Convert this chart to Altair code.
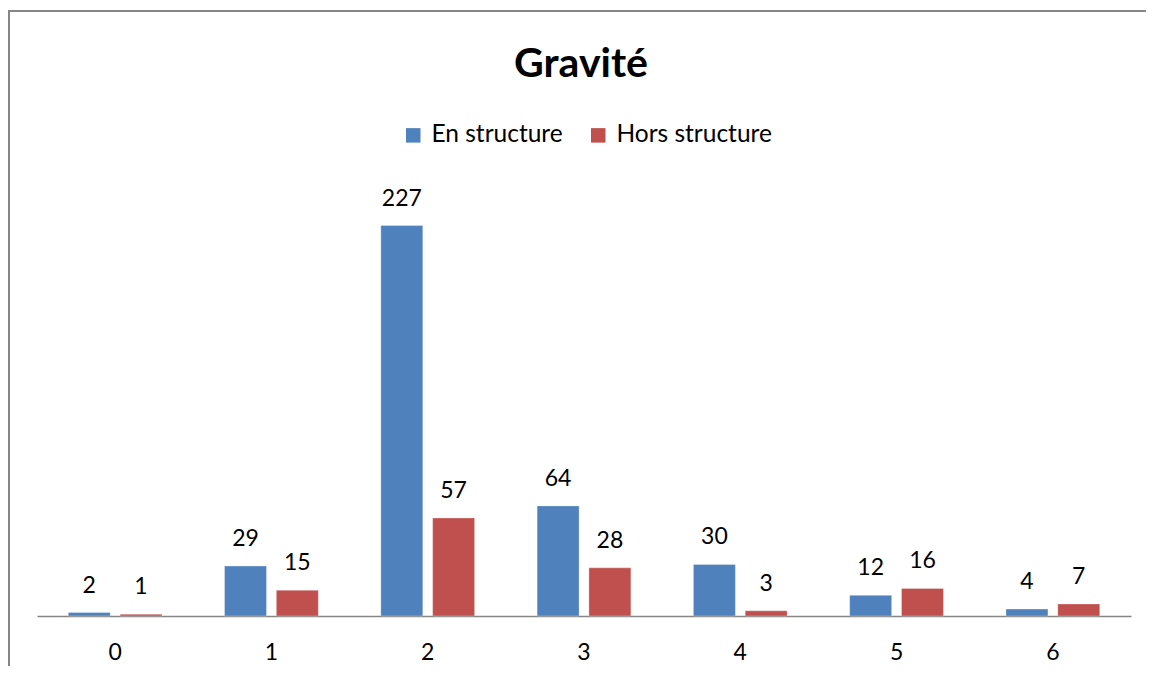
import altair as alt
import pandas as pd

categories = ["0", "1", "2", "3", "4", "5", "6"]
en_structure = [2, 29, 227, 64, 30, 12, 4]
hors_structure = [1, 15, 57, 28, 3, 16, 7]
series = ["En structure", "Hors structure"]
colors = ["#4F81BD", "#C0504D"]

rows = []
for c, a, b in zip(categories, en_structure, hors_structure):
    rows.append({"cat": c, "serie": series[0], "val": a})
    rows.append({"cat": c, "serie": series[1], "val": b})
df = pd.DataFrame(rows)

FONT = "Lato"

base = alt.Chart(df).encode(
    x=alt.X("cat:N", sort=categories,
            scale=alt.Scale(paddingInner=0.4, paddingOuter=0.2),
            axis=alt.Axis(title=None, labelAngle=0, ticks=False, labelFontSize=23,
                          labelFont=FONT, labelColor="#000000", labelPadding=25,
                          domainColor="#868686", domainWidth=1.5, grid=False)),
    xOffset=alt.XOffset("serie:N", sort=series,
                        scale=alt.Scale(paddingInner=0.19, paddingOuter=0)),
    y=alt.Y("val:Q", scale=alt.Scale(domain=[0, 250]), axis=None),
)

bars = base.mark_bar(stroke="#ffffff", strokeWidth=0.5, strokeOpacity=0.6).encode(
    color=alt.Color("serie:N", sort=series,
                    scale=alt.Scale(domain=series, range=colors),
                    legend=alt.Legend(title=None, orient="none", direction="horizontal",
                                      legendX=364, legendY=-63, symbolType="square",
                                      symbolSize=210, symbolStrokeWidth=0,
                                      labelFontSize=24.5, labelFont=FONT,
                                      labelColor="#000000", columnPadding=23,
                                      labelOffset=6, padding=0))
)

labels = base.mark_text(fontSize=23, font=FONT, color="#000000",
                        baseline="middle", dy=-27).encode(text="val:Q")

border_left = alt.Chart(df).mark_rule(color="#868686", strokeWidth=2).encode(
    x=alt.value(-28), y=alt.value(-175), y2=alt.value(480))
border_top = alt.Chart(df).mark_rule(color="#868686", strokeWidth=2).encode(
    x=alt.value(-29), x2=alt.value(1109), y=alt.value(-175))

chart = alt.layer(bars, labels, border_left, border_top).properties(
    width=1094, height=430,
    autosize=alt.AutoSizeParams(type="none"),
    padding={"left": 29, "top": 178, "right": 15, "bottom": 50},
    title=alt.TitleParams("Gravité", fontSize=41, font=FONT, fontWeight="bold",
                          color="#000000", anchor="middle", dy=80, dx=-3),
).configure_view(stroke=None)

chart.save("out.html", embed_options={"renderer": "svg", "actions": False})
